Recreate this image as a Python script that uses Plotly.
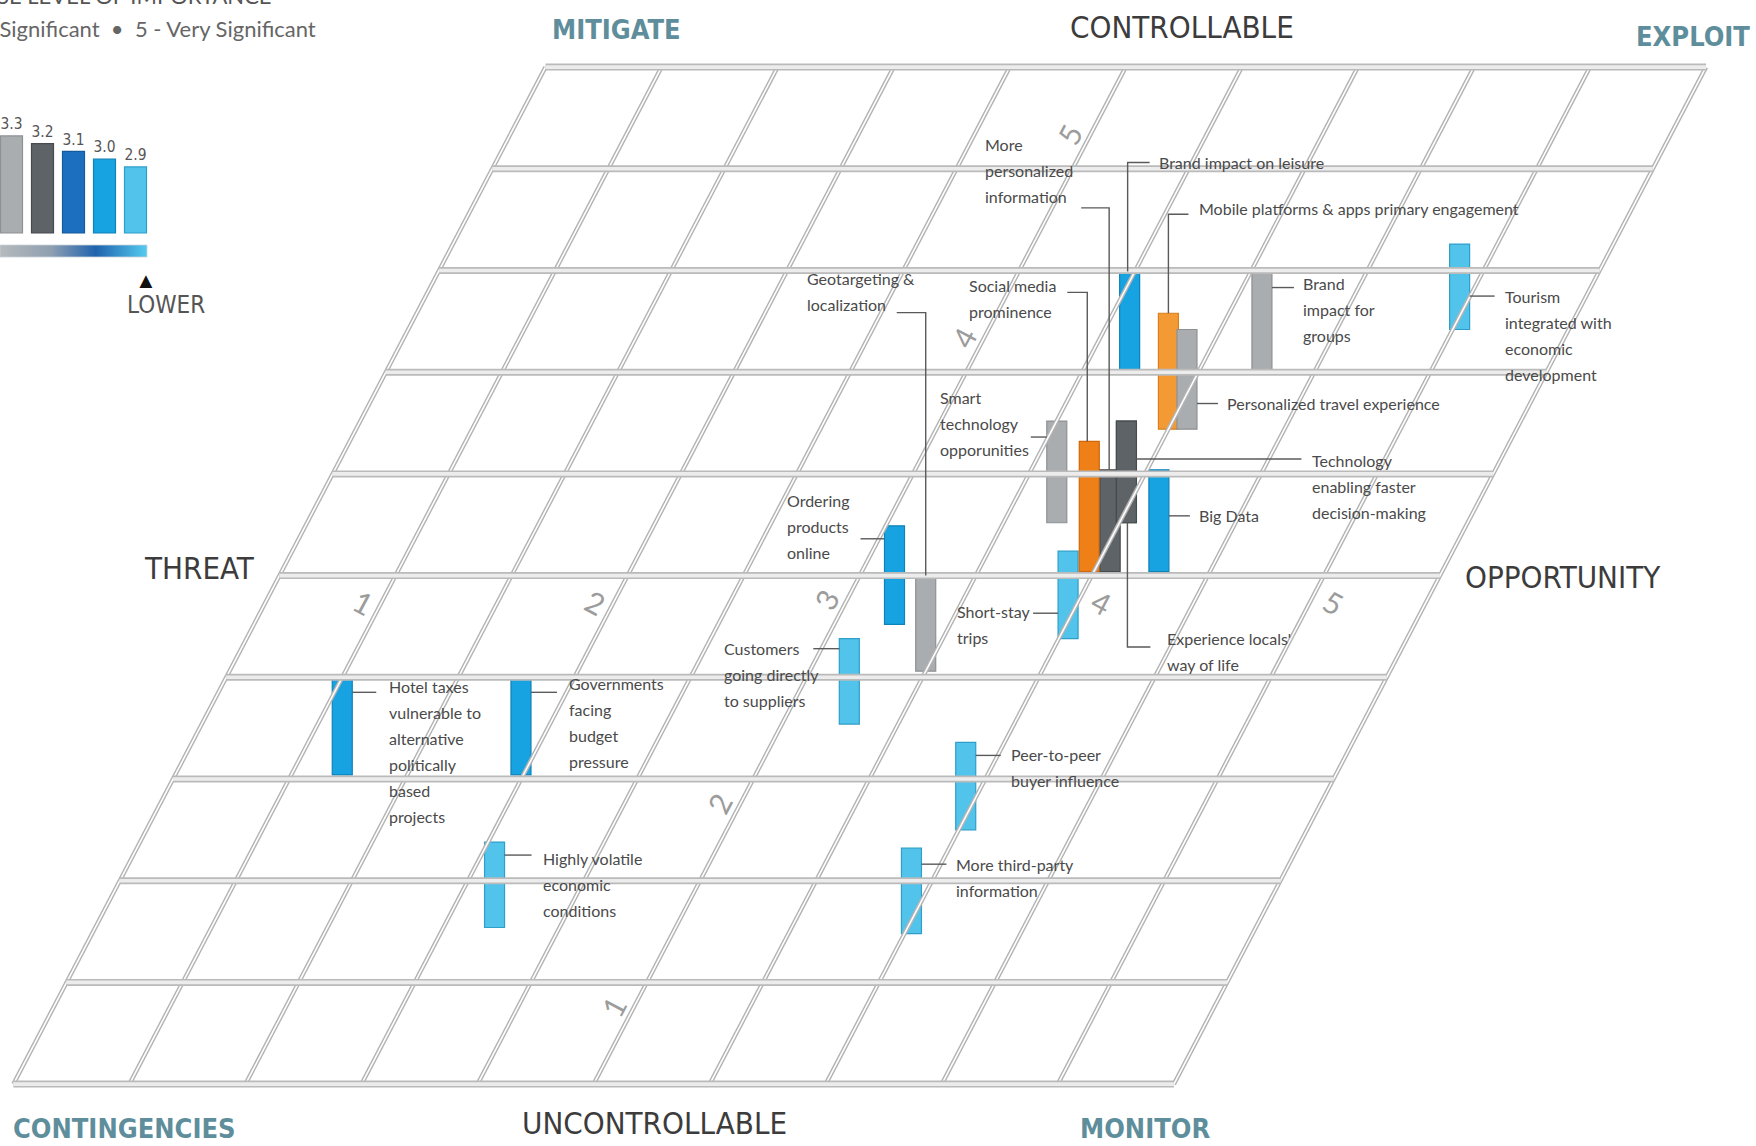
import plotly.graph_objects as go

# ---------------- canvas and skewed-plane geometry ----------------
W, H = 1756, 1146
SHEAR = 0.4585      # sideways drift of the plane per unit of controllability
PX_T = 232.1        # pixels per unit of the threat / opportunity scale
PX_C = 203.4        # pixels per unit of the controllability scale
U0 = 0.4423         # skewed coordinate at the left edge of the canvas
C_TOP = 5.830       # controllability value at the top edge of the canvas

GRID_STEPS = [0.5, 1.0, 1.5, 2.0, 2.5, 3.0, 3.5, 4.0, 4.5, 5.0, 5.5]
SCALE_TICKS = [1, 2, 3, 4, 5]

# ---------------- trends ----------------
TRENDS = [
    "Hotel taxes<br>vulnerable to<br>alternative<br>politically<br>based<br>projects",
    "Governments<br>facing<br>budget<br>pressure",
    "Highly volatile<br>economic<br>conditions",
    "Customers<br>going directly<br>to suppliers",
    "Ordering<br>products<br>online",
    "Geotargeting &<br>localization",
    "Short-stay<br>trips",
    "Smart<br>technology<br>opporunities",
    "Social media<br>prominence",
    "More<br>personalized<br>information",
    "Experience locals'<br>way of life",
    "Technology<br>enabling faster<br>decision-making",
    "Big Data",
    "Brand impact on leisure",
    "Mobile platforms & apps primary engagement",
    "Personalized travel experience",
    "Brand<br>impact for<br>groups",
    "Tourism<br>integrated with<br>economic<br>development",
    "Peer-to-peer<br>buyer influence",
    "More third-party<br>information",
]
# threat (1) .. opportunity (5)
THREAT_OPPORTUNITY = [1.22, 1.99, 2.22, 3.29, 3.26, 3.50, 4.04, 3.73, 3.98, 4.07,
                      4.03, 4.03, 4.28, 3.70, 4.00, 4.08, 4.27, 5.03, 4.03, 4.03]
# uncontrollable (1) .. controllable (5); the bar stands on this value
CONTROLLABILITY = [2.02, 2.02, 1.27, 2.27, 2.76, 2.53, 2.69, 3.26, 3.02, 3.02,
                   3.26, 3.26, 3.02, 4.01, 3.72, 3.72, 4.01, 4.21, 1.75, 1.24]
BAR_SPAN = [0.48, 0.48, 0.42, 0.42, 0.485, 0.47, 0.43, 0.50, 0.64, 0.50,
            0.50, 0.50, 0.50, 0.485, 0.57, 0.49, 0.485, 0.42, 0.43, 0.42]
IMPORTANCE = [3.0, 3.0, 2.9, 2.9, 3.0, 3.3, 2.9, 3.3, 3.5, 3.2,
              3.2, 3.2, 3.0, 3.0, 3.4, 3.3, 3.3, 2.9, 2.9, 2.9]

# legend scale
LEVELS = [3.3, 3.2, 3.1, 3.0, 2.9]

LEVEL_FILL = {3.5: "#ef7f17", 3.4: "#f49a34", 3.3: "#a9adb0", 3.2: "#5e6367",
              3.1: "#1c6fbe", 3.0: "#17a3e1", 2.9: "#52c4ec"}
LEVEL_EDGE = {3.5: "#d0670a", 3.4: "#d8801f", 3.3: "#8d9194", 3.2: "#474b4e",
              3.1: "#155a9c", 3.0: "#0f82b8", 2.9: "#2f9ec8"}

# label placement: leader polyline and first text line, in pixels relative
# to (bar centre, bar top)
LABEL_LAYOUT = [
    dict(path=[(10, 15), (34, 15)], text=(45, 9)),
    dict(path=[(10, 15), (36, 15)], text=(46, 6)),
    dict(path=[(10, 13), (37, 13)], text=(46, 16)),
    dict(path=[(-10, 10), (-36, 10)], text=(-127, 10)),
    dict(path=[(-10, 13), (-34, 13)], text=(-109, -25)),
    dict(path=[(-29, -263), (0, -263), (0, 0)], text=(-121, -297)),
    dict(path=[(-10, 62), (-35, 62)], text=(-113, 60)),
    dict(path=[(-10, 16), (-26, 16)], text=(-119, -24)),
    dict(path=[(-22, -149), (-2, -149), (-2, 0)], text=(-122, -156)),
    dict(path=[(-29, -262), (-1, -262), (-1, 0)], text=(-127, -325)),
    dict(path=[(1, 101), (1, 226), (24, 226)], text=(39, 217)),
    dict(path=[(10, 38), (175, 38)], text=(184, 39)),
    dict(path=[(10, 46), (31, 46)], text=(38, 46)),
    dict(path=[(-2, 0), (-2, -109), (20, -109)], text=(27, -109)),
    dict(path=[(0, 0), (0, -99), (20, -99)], text=(29, -105)),
    dict(path=[(10, 74), (31, 74)], text=(38, 74)),
    dict(path=[(10, 16), (32, 16)], text=(39, 12)),
    dict(path=[(10, 52), (35, 52)], text=(43, 52)),
    dict(path=[(10, 13), (35, 13)], text=(43, 12)),
    dict(path=[(10, 16), (35, 16)], text=(43, 16)),
]
LINE_H = 26

LABEL_FONT = "Lato, 'Noto Sans', sans-serif"
NARROW = "'Liberation Sans Narrow', 'Arial Narrow', 'DejaVu Sans Condensed', sans-serif"


def skew(t, c):
    return t + SHEAR * (c - 0.5)


def px_of_u(u):
    return (u - U0) * PX_T


def px_of_c(c):
    return (C_TOP - c) * PX_C


def u_of_px(px):
    return U0 + px / PX_T


def c_of_px(py):
    return C_TOP - py / PX_C


fig = go.Figure()

# ---------------- skewed grid ----------------
lo, hi = GRID_STEPS[0], GRID_STEPS[-1]
sx, sy = [], []
for t in GRID_STEPS:
    sx += [skew(t, lo), skew(t, hi), None]
    sy += [lo, hi, None]
hx, hy = [], []
for c in GRID_STEPS:
    hx += [skew(lo, c), skew(hi, c), None]
    hy += [c, c, None]

for xs, ys, outer, inner in [(sx, sy, (4.4, "#b3b3b3"), (1.6, "#ffffff")),
                             (hx, hy, (7, "#bababa"), (3.6, "#ececec"))]:
    fig.add_trace(go.Scatter(x=xs, y=ys, mode="lines",
                             line=dict(width=outer[0], color=outer[1]),
                             hoverinfo="skip", showlegend=False))
    fig.add_trace(go.Scatter(x=xs, y=ys, mode="lines",
                             line=dict(width=inner[0], color=inner[1]),
                             hoverinfo="skip", showlegend=False))

annotations = []

# scale numbers written into the plane
for v in SCALE_TICKS:
    if v != 3:
        t = v - 0.08 if v < 3 else v + 0.1
        annotations.append(dict(x=skew(t, 2.87), y=2.87, text=str(v), textangle=28,
                                showarrow=False, font=dict(family=LABEL_FONT, size=30, color="#9c9c9c")))
    c = v - 0.12 if v <= 3 else v + 0.17
    annotations.append(dict(x=skew(2.91, c), y=c, text=str(v), textangle=-62,
                            showarrow=False, font=dict(family=LABEL_FONT, size=30, color="#9c9c9c")))

# ---------------- leader lines and trend labels ----------------
bar_w = 20 / PX_T
lx, ly = [], []
for i, name in enumerate(TRENDS):
    u = skew(THREAT_OPPORTUNITY[i], CONTROLLABILITY[i])
    cx = px_of_u(u)
    top = px_of_c(CONTROLLABILITY[i] + BAR_SPAN[i])
    lay = LABEL_LAYOUT[i]
    for dx, dy in lay["path"]:
        lx.append(u_of_px(cx + dx))
        ly.append(c_of_px(top + dy))
    lx.append(None)
    ly.append(None)
    tx, ty = lay["text"]
    for k, line in enumerate(name.split("<br>")):
        annotations.append(dict(x=u_of_px(cx + tx), y=c_of_px(top + ty + k * LINE_H),
                                text=line, showarrow=False, xanchor="left", yanchor="middle",
                                font=dict(family=LABEL_FONT, size=16, color="#4a4a4a")))

fig.add_trace(go.Scatter(x=lx, y=ly, mode="lines", line=dict(width=1.4, color="#5a5a5a"),
                         hoverinfo="skip", showlegend=False))

# ---------------- trend bars ----------------
fig.add_trace(go.Bar(
    x=[skew(t, c) for t, c in zip(THREAT_OPPORTUNITY, CONTROLLABILITY)],
    y=BAR_SPAN, base=CONTROLLABILITY, width=[bar_w] * len(TRENDS),
    marker=dict(color=[LEVEL_FILL[v] for v in IMPORTANCE],
                line=dict(color=[LEVEL_EDGE[v] for v in IMPORTANCE], width=1.2)),
    hoverinfo="skip", showlegend=False))

# ---------------- importance legend ----------------
LEG_FLOOR = 2.048
LEG_PX = 77.5
LEG_BASE_PX = 233
LEG_STEP = 31.0
fig.add_trace(go.Bar(
    x=list(range(len(LEVELS))), y=[v - LEG_FLOOR for v in LEVELS], base=LEG_FLOOR,
    width=22 / LEG_STEP, xaxis="x2", yaxis="y2",
    text=[f"{v:.1f}" for v in LEVELS], textposition="outside", cliponaxis=False,
    textfont=dict(family=NARROW, size=20, color="#555555"),
    marker=dict(color=[LEVEL_FILL[v] for v in LEVELS],
                line=dict(color=[LEVEL_EDGE[v] for v in LEVELS], width=1.2)),
    hoverinfo="skip", showlegend=False))

# gradient strip under the legend bars
gx0, gx1, gy0, gy1 = 0, 147, 245, 257
fig.add_trace(go.Scatter(
    x=[u_of_px(gx0), u_of_px(gx1), u_of_px(gx1), u_of_px(gx0), u_of_px(gx0)],
    y=[c_of_px(gy0), c_of_px(gy0), c_of_px(gy1), c_of_px(gy1), c_of_px(gy0)],
    mode="lines", fill="toself", line=dict(width=0.8, color="#c9d3da"),
    fillgradient=dict(type="horizontal",
                      colorscale=[[0, "#b6babd"], [0.35, "#8e9fb0"], [0.65, "#1f63ae"], [1, "#55cbef"]]),
    hoverinfo="skip", showlegend=False))

annotations += [
    dict(x=274 / W, y=1 - 11 / H, xref="paper", yref="paper", xanchor="right", yanchor="bottom",
         text="AVERAGE RESPONSE LEVEL OF IMPORTANCE", showarrow=False,
         font=dict(family=LABEL_FONT, size=22, color="#555555")),
    dict(x=318 / W, y=1 - 29 / H, xref="paper", yref="paper", xanchor="right", yanchor="middle",
         text="1 - Not Significant  \u2022  5 - Very Significant", showarrow=False,
         font=dict(family=LABEL_FONT, size=22, color="#666666")),
    dict(x=146 / W, y=1 - 279 / H, xref="paper", yref="paper", xanchor="center", yanchor="middle",
         text="\u25B2", showarrow=False, font=dict(size=22, color="#111111")),
    dict(x=166 / W, y=1 - 305 / H, xref="paper", yref="paper", xanchor="center", yanchor="middle",
         text="LOWER", showarrow=False, font=dict(family=NARROW, size=24, color="#555555")),
]

# ---------------- axis titles and quadrant names ----------------
def paper_text(x, y, text, size, color, bold=False, anchor="center"):
    return dict(x=x / W, y=1 - y / H, xref="paper", yref="paper", xanchor=anchor, yanchor="middle",
                text=f"<b>{text}</b>" if bold else text, showarrow=False,
                font=dict(family=NARROW, size=size, color=color))


annotations += [
    paper_text(1182, 27, "CONTROLLABLE", 31, "#3c3c3c"),
    paper_text(654, 1123, "UNCONTROLLABLE", 31, "#3c3c3c"),
    paper_text(199, 568, "THREAT", 31, "#3c3c3c"),
    paper_text(1563, 577, "OPPORTUNITY", 31, "#3c3c3c"),
    paper_text(616, 30, "MITIGATE", 27, "#5e8e9b", bold=True),
    paper_text(1752, 36, "EXPLOIT", 27, "#5e8e9b", bold=True, anchor="right"),
    paper_text(11, 1128, "CONTINGENCIES", 27, "#5e8e9b", bold=True, anchor="left"),
    paper_text(1145, 1128, "MONITOR", 27, "#5e8e9b", bold=True),
]

fig.update_layout(
    width=W, height=H, autosize=False,
    margin=dict(l=0, r=0, t=0, b=0, pad=0),
    paper_bgcolor="white", plot_bgcolor="rgba(0,0,0,0)",
    xaxis=dict(range=[U0, u_of_px(W)], visible=False, fixedrange=True),
    yaxis=dict(range=[c_of_px(H), C_TOP], visible=False, fixedrange=True),
    xaxis2=dict(domain=[0, 1], anchor="y2", visible=False, fixedrange=True,
                range=[-11.5 / LEG_STEP, (W - 11.5) / LEG_STEP]),
    yaxis2=dict(domain=[0, 1], anchor="x2", visible=False, fixedrange=True,
                range=[LEG_FLOOR - (H - LEG_BASE_PX) / LEG_PX, LEG_FLOOR + LEG_BASE_PX / LEG_PX]),
    annotations=annotations,
    showlegend=False,
)

fig.write_html("out.html")
